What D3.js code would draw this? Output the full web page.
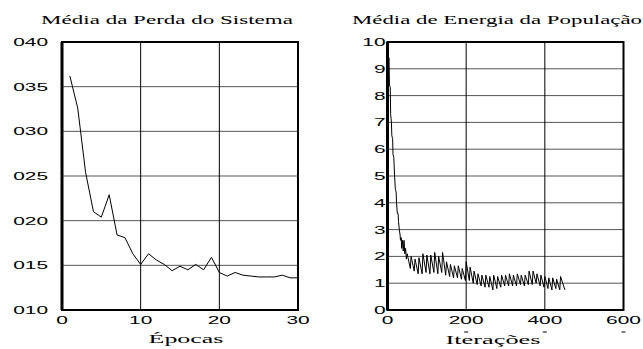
<!DOCTYPE html>
<html>
<head>
<meta charset="utf-8">
<script src="https://cdn.jsdelivr.net/npm/d3@7"></script>
<style>
  body { margin: 0; background: #fff; }
  svg { display: block; }
  .serif { font-family: 'Liberation Serif', 'Times New Roman', 'DejaVu Serif', serif; }
  .sans { font-family: 'Liberation Sans', Arial, sans-serif; }
</style>
</head>
<body>
<script>
// left panel: mean system loss per epoch
const epochs = d3.range(1, 31);
const lossValues = [0.0362, 0.0326, 0.0254, 0.0210, 0.0204, 0.0229, 0.0184, 0.0181, 0.0163, 0.0151,
  0.0163, 0.0156, 0.0151, 0.0144, 0.0149, 0.0145, 0.0151, 0.0145, 0.0159, 0.0142,
  0.0138, 0.0142, 0.0139, 0.0138, 0.0137, 0.0137, 0.0137, 0.0139, 0.0136, 0.0136];
const lossTicks = [0.010, 0.015, 0.020, 0.025, 0.030, 0.035, 0.040];
const lossTickLabels = ['010', '015', '020', '025', '030', '035', '040'];
const epochTicks = [0, 10, 20, 30];

// right panel: mean population energy per iteration
const iterations = [2, 4, 5, 7, 8, 10, 11, 13, 14, 16, 18, 20, 22, 23, 25, 27, 28, 30, 32, 33, 35, 36, 38, 40, 42, 44, 46, 48, 50,
  58, 60, 68, 70, 78, 80, 88, 90, 98, 100, 108, 110, 118, 120, 128, 130, 138, 140, 148, 150,
  158, 160, 168, 170, 178, 180, 188, 190, 198, 200, 208, 210, 218, 220, 228, 230, 238, 240, 248, 250,
  258, 260, 268, 270, 278, 280, 288, 290, 298, 300, 308, 310, 318, 320, 328, 330, 338, 340, 348, 350,
  358, 360, 368, 370, 378, 380, 388, 390, 398, 400, 408, 410, 418, 420, 428, 430, 438, 440, 451];
const energyValues = [9.45, 9.4, 8.4, 8.3, 7.3, 7.0, 6.5, 6.4, 5.8, 5.7, 5.0, 4.5, 4.4, 4.0, 3.6, 3.6, 3.3, 3.0, 2.8, 2.6, 2.7, 2.3, 2.6, 2.2, 2.6, 2.1, 2.3, 1.9, 2.1,
  1.55, 2.0, 1.45, 1.9, 1.35, 1.95, 1.35, 2.1, 1.4, 2.05, 1.35, 2.05, 1.4, 2.15, 1.35, 2.0, 1.4, 2.15, 1.3, 1.8,
  1.25, 1.7, 1.2, 1.65, 1.2, 1.65, 1.15, 1.55, 1.1, 1.8, 1.1, 1.6, 1.0, 1.45, 0.95, 1.35, 0.9, 1.3, 0.85, 1.3,
  0.85, 1.25, 0.75, 1.3, 0.8, 1.25, 0.85, 1.3, 0.9, 1.3, 0.9, 1.35, 0.9, 1.3, 0.9, 1.35, 0.95, 1.3, 0.9, 1.3,
  0.95, 1.45, 0.95, 1.45, 1.0, 1.35, 0.9, 1.3, 0.85, 1.25, 0.8, 1.2, 0.75, 1.2, 0.8, 1.15, 0.75, 1.25, 0.75];
const energyTicks = d3.range(0, 11);
const iterTicks = [0, 200, 400, 600];

const width = 643, height = 349, stretch = 1.9;

const svg = d3.select('body').append('svg')
  .attr('width', width)
  .attr('height', height);

// wide sans labels: the scanned figure is stretched horizontally
function wideText(g, x, y, str, anchor) {
  return g.append('text')
    .attr('class', 'sans')
    .attr('transform', `translate(${x},${y}) scale(${stretch},1)`)
    .attr('text-anchor', anchor)
    .attr('font-size', 11)
    .attr('fill', '#000')
    .text(str);
}

// serif captions stretched to the measured width
function serifText(x, y, str, len) {
  const t = svg.append('text')
    .attr('class', 'serif')
    .attr('text-anchor', 'middle')
    .attr('font-size', 13)
    .attr('fill', '#000')
    .text(str);
  const w = t.node().getComputedTextLength();
  t.attr('transform', `translate(${x},${y}) scale(${len / w},1)`);
}

function panel(opt) {
  const { x, y } = opt;
  const g = svg.append('g');
  const [x0, x1] = x.range(), [y0, y1] = y.range();

  g.selectAll('.hgrid').data(opt.yTicks.slice(1, -1)).enter().append('line')
    .attr('x1', x0).attr('x2', x1)
    .attr('y1', d => y(d)).attr('y2', d => y(d))
    .attr('stroke', '#555').attr('stroke-width', 1);

  g.selectAll('.vgrid').data(opt.xTicks.slice(1, -1)).enter().append('line')
    .attr('x1', d => x(d)).attr('x2', d => x(d))
    .attr('y1', y0).attr('y2', y1)
    .attr('stroke', '#000').attr('stroke-width', 1);

  const line = d3.line().x(d => x(d[0])).y(d => y(d[1]));
  g.append('path')
    .datum(d3.zip(opt.xs, opt.ys))
    .attr('d', line)
    .attr('fill', 'none')
    .attr('stroke', '#000')
    .attr('stroke-width', 1);

  g.append('rect')
    .attr('x', x0).attr('y', y1)
    .attr('width', x1 - x0).attr('height', y0 - y1)
    .attr('fill', 'none').attr('stroke', '#000').attr('stroke-width', 2);
  g.append('line')
    .attr('x1', x0).attr('x2', x0).attr('y1', y1).attr('y2', y0)
    .attr('stroke', '#000').attr('stroke-width', 3);

  opt.yTicks.forEach((t, i) => {
    wideText(g, x0 - opt.yPad, y(t) + 4, opt.yLabels[i], 'end');
  });
  opt.xTicks.forEach(t => {
    wideText(g, x(t), 324, String(t), 'middle');
  });
}

const xLoss = d3.scaleLinear([0, 30], [62, 298]);
const yLoss = d3.scaleLinear([0.010, 0.040], [310, 42]);
panel({
  x: xLoss, y: yLoss,
  xs: epochs, ys: lossValues,
  xTicks: epochTicks, yTicks: lossTicks, yLabels: lossTickLabels,
  yPad: 14
});

const xIter = d3.scaleLinear([0, 600], [387.5, 623.5]);
const yEnergy = d3.scaleLinear([0, 10], [310, 42]);
panel({
  x: xIter, y: yEnergy,
  xs: iterations, ys: energyValues,
  xTicks: iterTicks, yTicks: energyTicks, yLabels: energyTicks.map(String),
  yPad: 2
});

// little marks under the iteration tick labels
svg.selectAll('.dash').data(iterTicks.slice(1)).enter().append('line')
  .attr('x1', d => xIter(d) - 2).attr('x2', d => xIter(d) + 2)
  .attr('y1', 332).attr('y2', 332)
  .attr('stroke', '#555').attr('stroke-width', 1.5);

serifText(167, 24, 'Média da Perda do Sistema', 252);
serifText(497, 24, 'Média de Energia da População', 290);
serifText(186, 343, 'Épocas', 75);
serifText(493, 344, 'Iterações', 95);
</script>
</body>
</html>
